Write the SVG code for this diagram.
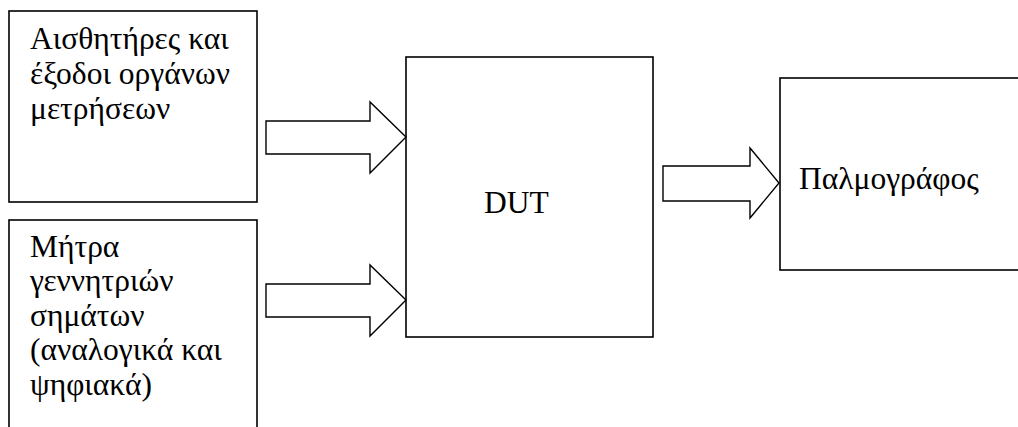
<svg xmlns="http://www.w3.org/2000/svg" width="1018" height="427" viewBox="0 0 1018 427">
<style>
.box{fill:#fff;stroke:#000;stroke-width:1.6}
.arr{fill:#fff;stroke:#000;stroke-width:1.4;stroke-linejoin:miter}
text{font-family:"Liberation Serif","Times New Roman",serif;font-size:31.5px;fill:#000}
</style>
<rect width="1018" height="427" fill="#fff"/>
<g id="sensors">
<rect class="box" x="9" y="11" width="248" height="191"/>
<text x="30" y="49">Αισθητήρες και</text>
<text x="30" y="84">έξοδοι οργάνων</text>
<text x="30" y="119">μετρήσεων</text>
</g>
<g id="generators">
<rect class="box" x="9" y="220" width="248" height="240"/>
<text x="30" y="257">Μήτρα</text>
<text x="30" y="291">γεννητριών</text>
<text x="30" y="326">σημάτων</text>
<text x="30" y="360">(αναλογικά και</text>
<text x="30" y="395">ψηφιακά)</text>
</g>
<g id="dut">
<rect class="box" x="406" y="57" width="247" height="280"/>
<text x="484" y="213">DUT</text>
</g>
<g id="scope">
<rect class="box" x="780" y="78" width="260" height="192"/>
<text x="799" y="189">Παλμογράφος</text>
</g>
<g id="connectors">
<polygon class="arr" points="266,121 370,121 370,102 406,137 370,173 370,154 266,154"/>
<polygon class="arr" points="266,284 370,284 370,265 406,300 370,336 370,317 266,317"/>
<polygon class="arr" points="663,166 750,166 750,148 779,183 750,218 750,201 663,201"/>
</g>
</svg>
